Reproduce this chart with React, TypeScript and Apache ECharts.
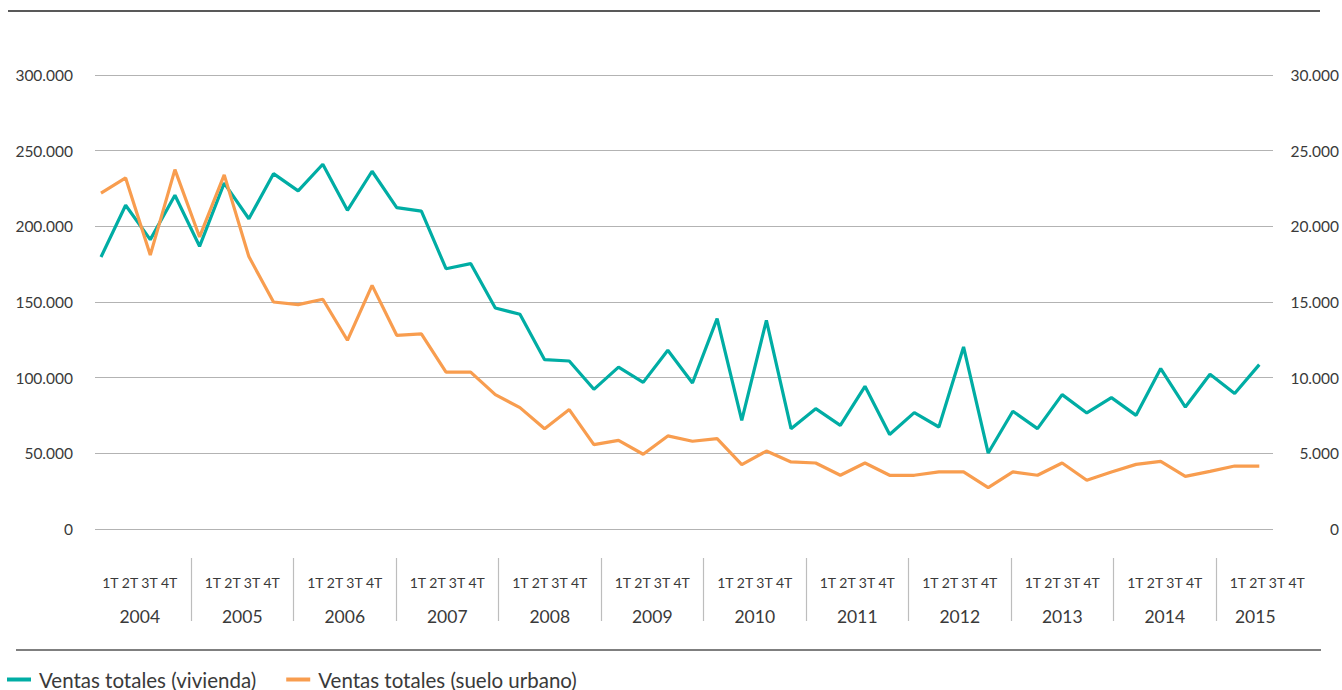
import React, { useEffect, useRef } from "react";
import * as echarts from "echarts";

const years = ["2004", "2005", "2006", "2007", "2008", "2009", "2010", "2011", "2012", "2013", "2014", "2015"];
const quarterLabel = "1T 2T 3T 4T";

// Ventas totales (vivienda) — left axis, 2004 1T … 2015 4T
const vivienda = [
  179700, 213900, 191200, 220500,
  186800, 228600, 205000, 234800,
  223400, 241000, 210600, 236400,
  212400, 210100, 172000, 175400,
  146000, 141900, 111900, 111000,
  92300, 107000, 96900, 118100,
  96500, 139000, 71800, 137900,
  66300, 79500, 68500, 94300,
  62400, 76900, 67400, 120300,
  50200, 77800, 66300, 88800,
  76700, 86800, 75100, 106000,
  80600, 102200, 89500, 108600,
];

// Ventas totales (suelo urbano) — right axis
const suelo = [
  22200, 23200, 18100, 23750,
  19300, 23400, 18000, 15000,
  14830, 15180, 12470, 16100,
  12800, 12900, 10370, 10370,
  8880, 8020, 6630, 7890,
  5580, 5860, 4940, 6150,
  5800, 5970, 4260, 5150,
  4430, 4360, 3550, 4360,
  3550, 3550, 3770, 3770,
  2740, 3770, 3550, 4360,
  3220, 3770, 4270, 4470,
  3480, 3810, 4160, 4160,
];

const leftTicks = { min: 0, max: 300000, interval: 50000 };
const rightTicks = { min: 0, max: 30000, interval: 5000 };

const FONT = "Lato, 'Open Sans', sans-serif";
const TEAL = "#00ADA4";
const ORANGE = "#F89D4F";
const TEXT = "#3a3a3a";

const fmt = (v: number) => String(v).replace(/\B(?=(\d{3})+(?!\d))/g, ".");

export default function App() {
  const ref = useRef<HTMLDivElement>(null);

  useEffect(() => {
    if (!ref.current) return;
    const chart = echarts.init(ref.current, null, { renderer: "svg" });
    const n = vivienda.length;
    chart.setOption({
      animation: false,
      backgroundColor: "#ffffff",
      textStyle: { fontFamily: FONT },
      grid: [
        { left: 95, right: 69, top: 75, height: 454 },
        { left: 88.5, width: 1230, top: 558, height: 63 },
      ],
      legend: {
        left: 7,
        top: 669,
        padding: 0,
        icon: "rect",
        itemWidth: 24,
        itemHeight: 4,
        itemGap: 30,
        textStyle: { fontFamily: FONT, fontSize: 20.5, lineHeight: 14, color: TEXT, padding: [0, 0, 0, 3] },
        data: ["Ventas totales (vivienda)", "Ventas totales (suelo urbano)"],
      },
      xAxis: [
        {
          type: "value",
          gridIndex: 0,
          min: -0.243,
          max: n - 1 + 0.556,
          show: false,
        },
        {
          type: "category",
          gridIndex: 1,
          position: "top",
          data: years,
          axisLine: { show: false },
          axisTick: { show: false },
          splitLine: {
            show: true,
            interval: 0,
            showMinLine: false,
            showMaxLine: false,
            lineStyle: { color: "#bdbdbd", width: 1.2 },
          },
          axisLabel: {
            inside: true,
            interval: 0,
            margin: 7,
            formatter: (val: string) =>
              `{q|${quarterLabel}}\n{${val === "2015" ? "y2" : "y"}|${val}}`,
            rich: {
              q: { fontFamily: FONT, fontSize: 14, color: TEXT, lineHeight: 34 },
              y: { fontFamily: FONT, fontSize: 17.5, color: TEXT, lineHeight: 34 },
              y2: { fontFamily: FONT, fontSize: 17.5, color: TEXT, lineHeight: 34, padding: [0, 24, 0, 0] },
            },
          },
        },
      ],
      yAxis: [
        {
          type: "value",
          gridIndex: 0,
          position: "left",
          ...leftTicks,
          axisLine: { show: false },
          axisTick: { show: false },
          axisLabel: {
            margin: 22,
            fontFamily: FONT,
            fontSize: 15.5,
            color: TEXT,
            formatter: (v: number) => fmt(v),
          },
          splitLine: { lineStyle: { color: "#b3b3b3", width: 1.2 } },
        },
        {
          type: "value",
          gridIndex: 0,
          position: "right",
          ...rightTicks,
          axisLine: { show: false },
          axisTick: { show: false },
          axisLabel: {
            margin: 66,
            align: "right",
            fontFamily: FONT,
            fontSize: 15.5,
            color: TEXT,
            formatter: (v: number) => fmt(v),
          },
          splitLine: { show: false },
        },
        { type: "value", gridIndex: 1, show: false },
      ],
      series: [
        {
          name: "Ventas totales (vivienda)",
          type: "line",
          xAxisIndex: 0,
          yAxisIndex: 0,
          data: vivienda.map((v, i) => [i, v]),
          symbol: "none",
          color: TEAL,
          lineStyle: { color: TEAL, width: 3.2 },
        },
        {
          name: "Ventas totales (suelo urbano)",
          type: "line",
          xAxisIndex: 0,
          yAxisIndex: 1,
          data: suelo.map((v, i) => [i, v]),
          symbol: "none",
          color: ORANGE,
          lineStyle: { color: ORANGE, width: 3.2 },
        },
      ],
      graphic: [
        {
          type: "line",
          shape: { x1: 8, y1: 11, x2: 1320, y2: 11 },
          style: { stroke: "#222", lineWidth: 1.4 },
        },
        {
          type: "line",
          shape: { x1: 16, y1: 650, x2: 1321, y2: 650 },
          style: { stroke: "#555", lineWidth: 1.4 },
        },
      ],
    });
    return () => chart.dispose();
  }, []);

  return (
    <div
      ref={ref}
      style={{ position: "fixed", left: 0, top: 0, width: 1342, height: 690 }}
    />
  );
}
